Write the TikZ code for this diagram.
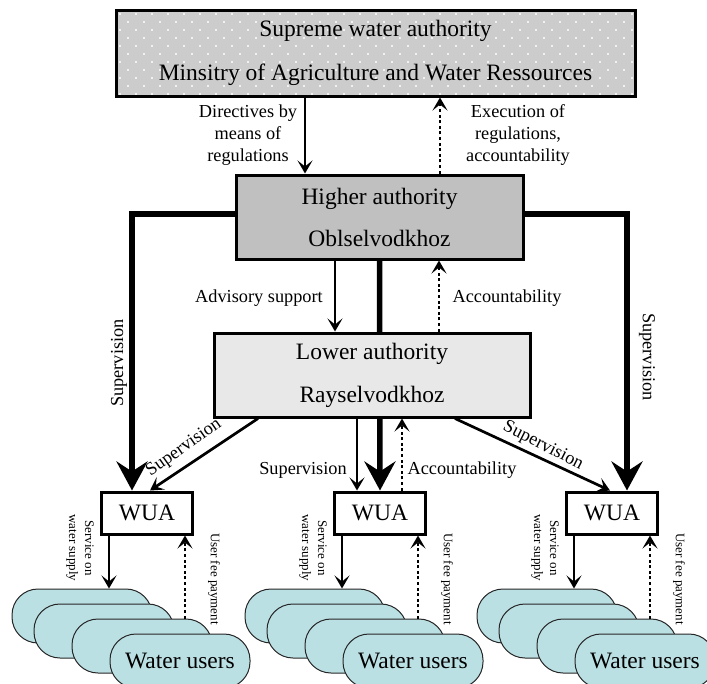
\documentclass[tikz,border=0pt]{standalone}
\usepackage{fontspec}
\setmainfont{Liberation Serif}
\usetikzlibrary{arrows.meta,calc}
\pgfdeclarelayer{background}
\pgfsetlayers{background,main}

\definecolor{toptint}{RGB}{204,204,204}
\definecolor{highgray}{RGB}{192,192,192}
\definecolor{lowgray}{RGB}{232,232,232}
\definecolor{usercyan}{RGB}{187,224,228}

\tikzset{
  x=1pt, y=-1pt,
  bigfont/.style={font=\fontsize{23.5}{28}\selectfont},
  lblfont/.style={font=\fontsize{18.3}{22}\selectfont},
  tinyfont/.style={font=\fontsize{13}{16}\selectfont},
  authbox/.style={draw, line width=3pt, inner sep=0pt, align=center, bigfont},
  wuabox/.style={draw, fill=white, line width=3pt, minimum width=91pt,
    minimum height=42pt, inner sep=0pt, bigfont},
  userpill/.style={draw=black!85, line width=1pt, fill=usercyan,
    rounded corners=26pt, minimum width=140pt, minimum height=54pt,
    inner sep=0pt, bigfont},
  flow/.style={line width=2.7pt, -{Stealth[length=13pt,width=15pt,inset=6pt]}},
  backflow/.style={flow, line width=2.9pt, dash pattern=on 3pt off 2.6pt},
  heavy/.style={line width=5.5pt, -{Stealth[length=29pt,width=31pt,inset=10pt]}},
  lbl/.style={lblfont, inner sep=1pt, align=center},
  vlbl/.style={tinyfont, inner sep=0pt, align=center, rotate=-90},
  dotted fill/.style={path picture={
    \foreach \r in {0,...,10}
      \foreach \c in {0,...,32}
        \fill[white] ($(path picture bounding box.north west)
          +({4+16*\c+8*mod(\r,2)},{4+8*\r})$) circle (1.1pt);}},
}

\begin{document}
\begin{tikzpicture}
\useasboundingbox (0,0) rectangle (707,683);

% authority boxes
\node[authbox, fill=toptint, dotted fill, minimum width=519pt, minimum height=86pt]
  (sup) at (375.5,53) {Supreme water authority\\[16pt]Minsitry of Agriculture and Water Ressources};
\node[authbox, fill=highgray, minimum width=287pt, minimum height=84pt]
  (high) at (379.5,217) {Higher authority\\[14pt]Oblselvodkhoz};
\node[authbox, fill=lowgray, minimum width=316pt, minimum height=84pt]
  (low) at (372,375) {Lower authority\\[15pt]Rayselvodkhoz};

% column positions of the vertical connectors
\coordinate (dirx) at (305,0);
\coordinate (exex) at (440,0);
\coordinate (advx) at (335,0);
\coordinate (accx) at (439,0);
\coordinate (midsupx) at (357,0);
\coordinate (midaccx) at (402,0);
\coordinate (leftx) at (132,0);
\coordinate (rightx) at (627,0);
\coordinate (barY) at (0,214);
\coordinate (dlA) at (258,0);
\coordinate (dlB) at (150,0);
\coordinate (drA) at (455,0);
\coordinate (drB) at (610,0);

% one WUA with its stack of water users
\foreach \i/\sx in {1/12, 2/245, 3/477}{
  \node[wuabox] (w\i) at ({\sx+135},513) {WUA};
  \node[userpill] (u\i a) at ({\sx+70},616) {};
  \node[userpill] (u\i b) at ({\sx+92},631) {};
  \node[userpill] (u\i c) at ({\sx+130},646) {};
  \node[userpill] (u\i d) at ({\sx+168},661) {Water users};
  \coordinate (sv\i) at ({\sx+97},0);
  \coordinate (uf\i) at ({\sx+173},0);
  \draw[flow] (w\i.south -| sv\i) -- (u\i a.north -| sv\i);
  \draw[backflow] (u\i c.north -| uf\i) -- (w\i.south -| uf\i);
  \node[vlbl] (svl\i) at ({\sx+68},548) {Service on\\water supply};
  \node[vlbl] (ufl\i) at ({\sx+202},579) {User fee payment};
}

% supervision lines running behind the lower authority
\begin{pgfonlayer}{background}
  \draw[heavy] (high.south) -- (w2.north);
\end{pgfonlayer}
\draw[heavy] (high.west |- barY) -| (leftx |- w1.north);
\draw[heavy] (high.east |- barY) -| (rightx |- w3.north);

% vertical exchanges between authorities
\draw[flow] (sup.south -| dirx) -- (high.north -| dirx);
\draw[backflow] (high.north -| exex) -- (sup.south -| exex);
\draw[flow] (high.south -| advx) -- (low.north -| advx);
\draw[backflow] (low.north -| accx) -- (high.south -| accx);
\draw[flow] (low.south -| midsupx) -- (w2.north -| midsupx);
\draw[backflow] (w2.north -| midaccx) -- (low.south -| midaccx);
\draw[flow] (low.south -| dlA) -- (w1.north -| dlB);
\draw[flow] (low.south -| drA) -- (w3.north -| drB);

% labels
\node[lbl] (dirlbl) at (248,135) {Directives by\\means of\\regulations};
\node[lbl] (exelbl) at (518,135) {Execution of\\regulations,\\accountability};
\node[lbl] (advlbl) at (259,298) {Advisory support};
\node[lbl] (acclbl) at (507,298) {Accountability};
\node[lbl, rotate=90] (supL) at (119,363) {Supervision};
\node[lbl, rotate=-90] (supR) at (647,357) {Supervision};
\node[lbl] (supM) at (303,470) {Supervision};
\node[lbl] (accM) at (462,470) {Accountability};
\node[lbl, rotate=35] (supDL) at (184,448) {Supervision};
\node[lbl, rotate=-27] (supDR) at (543,446) {Supervision};
\end{tikzpicture}
\end{document}
